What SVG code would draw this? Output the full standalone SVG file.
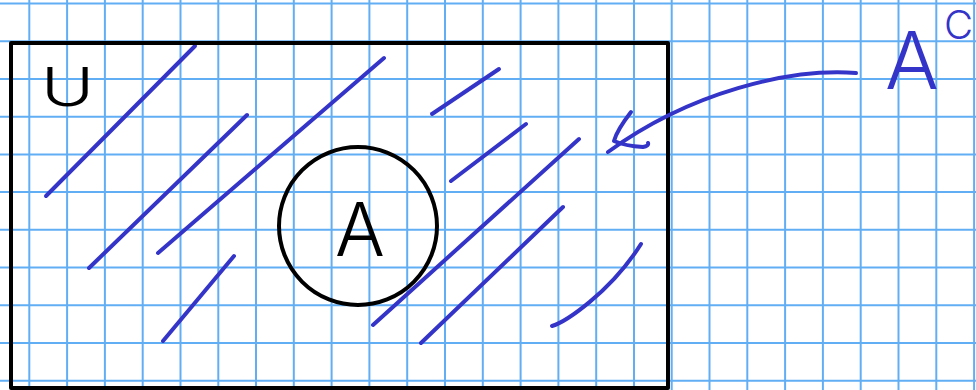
<svg xmlns="http://www.w3.org/2000/svg" width="976" height="390" viewBox="0 0 976 390">
  <defs>
    <style>
      .grid { stroke: #62aef5; stroke-width: 2; fill: none; }
      .ink { stroke: #000; stroke-width: 4; fill: none; stroke-linecap: round; stroke-linejoin: round; }
      .pen { stroke: #3434c8; stroke-width: 4; fill: none; stroke-linecap: round; stroke-linejoin: round; }
      .lblk { font-family: Inter, Roboto, "Liberation Sans", sans-serif; font-weight: 300; fill: #000; }
      .lblu { font-family: Inter, Roboto, "Liberation Sans", sans-serif; font-weight: 300; fill: #3434c8; }
    </style>
  </defs>
  <rect width="976" height="390" fill="#fff"/>
  <g id="grid">
    <path class="grid" d="M29.3,0V390M67.1,0V390M104.9,0V390M142.7,0V390M180.5,0V390M218.3,0V390M256,0V390M293.8,0V390M331.6,0V390M369.4,0V390M407.2,0V390M445,0V390M482.8,0V390M520.6,0V390M558.4,0V390M596.2,0V390M634,0V390M671.7,0V390M709.5,0V390M747.3,0V390M785.1,0V390M822.9,0V390M860.7,0V390M898.5,0V390M936.3,0V390M974.1,0V390"/>
    <path class="grid" d="M0,3.5H976M0,41.2H976M0,78.9H976M0,116.7H976M0,154.4H976M0,192.1H976M0,229.8H976M0,267.5H976M0,305.3H976M0,343H976M0,380.7H976"/>
  </g>
  <g id="hatching">
    <path class="pen" d="M46,196L195,46"/>
    <path class="pen" d="M89,268L247,115"/>
    <path class="pen" d="M158,253L384,58"/>
    <path class="pen" d="M163,341L234,256"/>
    <path class="pen" d="M432,114L499,69"/>
    <path class="pen" d="M451,181L526,124"/>
    <path class="pen" d="M373,325L579,139"/>
    <path class="pen" d="M421,343L563,207"/>
    <path class="pen" d="M552,326C565,322 610,293 641,244"/>
  </g>
  <g id="universe">
    <rect class="ink" x="11" y="43" width="657" height="345" stroke-linecap="butt" stroke-linejoin="miter"/>
    <text class="lblk" transform="translate(67.5,106) scale(1.4,1.02)" x="0" y="0" font-size="52" text-anchor="middle">U</text>
  </g>
  <g id="setA">
    <circle class="ink" cx="358" cy="226" r="79"/>
    <text class="lblk" x="360" y="256" font-size="74" text-anchor="middle">A</text>
  </g>
  <g id="complement-label">
    <text class="lblu" x="912" y="89" font-size="80" text-anchor="middle">A<tspan x="944" y="39" font-size="40" text-anchor="start">C</tspan></text>
  </g>
  <g id="connectors">
    <path class="pen" d="M856,73C790,68 690,92 608,152"/>
    <path class="pen" d="M631,112Q617,130 614,141Q625,146 643,147Q649,146 648,143"/>
  </g>
</svg>
